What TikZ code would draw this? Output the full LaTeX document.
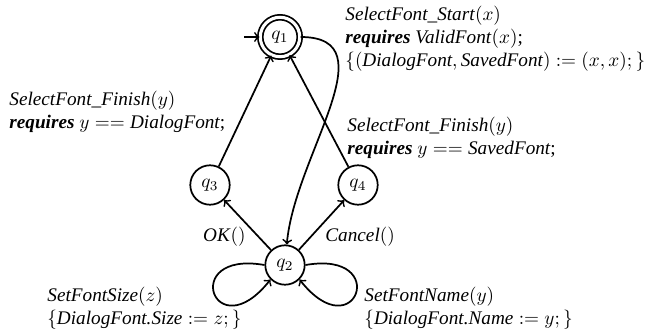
\documentclass[tikz,border=0pt]{standalone}
\usepackage{fontspec}
\setmainfont{Liberation Serif}
\usetikzlibrary{positioning,arrows}

\tikzset{
  st/.style={circle,draw,line width=0.9pt,minimum size=20.5pt,inner sep=0pt},
  acc/.style={st,double,double distance=1.6pt},
  tr/.style={->,line width=0.9pt},
  lbl/.style={align=left,inner sep=0pt}
}
\newcommand{\req}{\textbf{\textit{requires}}}

\begin{document}
\begin{tikzpicture}[x=0.52pt,y=-0.52pt]
			\useasboundingbox (0,0) rectangle (648,333);
			% states
			\node[acc] (q1) at (280,37) {$q_1$};
			\node[st] (q3) at (210,185) {$q_3$};
			\node[st] (q4) at (358,185) {$q_4$};
			\node[st] (q2) at (285,265) {$q_2$};
			\coordinate (init) at (244,37);
			% transitions
			\draw[tr] (init) -- (q1);
			\draw[tr] (q1) to[out=0,in=85,looseness=1.1] (q2);
			\draw[tr] (q3) -- (q1);
			\draw[tr] (q4) -- (q1);
			\draw[tr] (q2) -- (q3);
			\draw[tr] (q2) -- (q4);
			% self loops on q2
			\draw[tr] (q2.west) .. controls +(-86,-15) and +(-56,71) .. (q2.south west);
			\draw[tr] (q2.east) .. controls +(86,-15) and +(56,71) .. (q2.south east);
			% labels
			\node[lbl,anchor=west] (lstart) at (345,39) {\textit{SelectFont\_Start}$(x)$\\
				\req\ \textit{ValidFont}$(x)$;\\
				$\{(\textit{DialogFont}, \textit{SavedFont}) := (x,x);\}$};
			\node[lbl,anchor=west] (lfinl) at (9,112) {\textit{SelectFont\_Finish}$(y)$\\
				\req\ $y == \textit{DialogFont}$;};
			\node[lbl,anchor=west] (lfinr) at (347,138) {\textit{SelectFont\_Finish}$(y)$\\
				\req\ $y == \textit{SavedFont}$;};
			\node[lbl,anchor=east] (lok) at (246,237) {\textit{OK}$()$};
			\node[lbl,anchor=west] (lcancel) at (325,237) {\textit{Cancel}$()$};
			\node[lbl,anchor=west] (lsize) at (47,308) {\textit{SetFontSize}$(z)$\\
				$\{\textit{DialogFont.Size} := z;\}$};
			\node[lbl,anchor=west] (lname) at (364,308) {\textit{SetFontName}$(y)$\\
				$\{\textit{DialogFont.Name} := y;\}$};
		\end{tikzpicture}
\end{document}
